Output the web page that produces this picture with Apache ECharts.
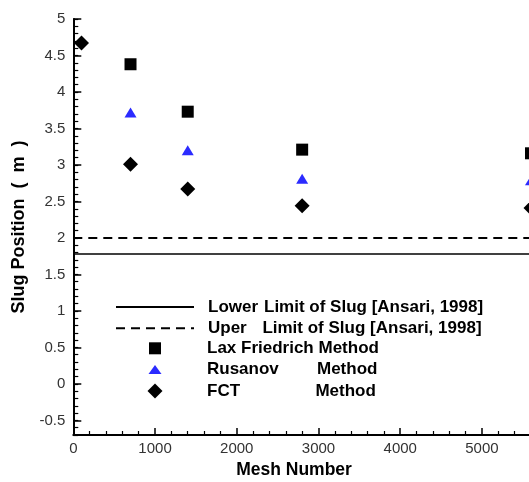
<!DOCTYPE html>
<html>
<head>
<meta charset="utf-8">
<script src="https://cdn.jsdelivr.net/npm/echarts@6/dist/echarts.min.js"></script>
<style>html,body{margin:0;padding:0;background:#fff;}#c{width:529px;height:482px;}</style>
</head>
<body>
<div id="c"></div>
<script>
// ---- data ----
const meshNumbers = [100, 700, 1400, 2800, 5600];
const laxFriedrich = [null, 4.38, 3.73, 3.21, 3.16];
const rusanov = [null, 3.72, 3.20, 2.81, 2.79];
const fct = [4.67, 3.01, 2.67, 2.44, 2.41];
const lowerLimit = 1.78;
const upperLimit = 2.0;
const limitX = [0, 6000];
const yTickLabels = [-0.5, 0, 0.5, 1, 1.5, 2, 2.5, 3, 3.5, 4, 4.5, 5];
const xTickLabels = [0, 1000, 2000, 3000, 4000, 5000];
const seriesNames = [
  'Lower Limit of Slug [Ansari, 1998]',
  'Uper   Limit of Slug [Ansari, 1998]',
  'Lax Friedrich Method',
  'Rusanov       Method',
  'FCT             Method'
];

const yMin = -0.7, yMax = 5;
const minorY = [];
for (let i = 0; i <= 57; i++) minorY.push(Math.round((yMin + i * 0.1) * 10) / 10);

function pts(xs, ys) {
  const out = [];
  xs.forEach((x, i) => { if (ys[i] !== null) out.push([x, ys[i]]); });
  return out;
}

const chart = echarts.init(document.getElementById('c'), null, {renderer: 'canvas'});
const FONT = 'Arial, "Liberation Sans", sans-serif';

const legendFormat = {};
legendFormat[seriesNames[0]] = '{p| }{a|Lower}{c|Limit of Slug [Ansari, 1998]}';
legendFormat[seriesNames[1]] = '{p| }{u|Uper}{c|Limit of Slug [Ansari, 1998]}';
legendFormat[seriesNames[2]] = '{q| }{c|Lax Friedrich Method}';
legendFormat[seriesNames[3]] = '{q| }{m|Rusanov}{c|Method}';
legendFormat[seriesNames[4]] = '{q| }{f|FCT}{c|Method}';

const rt = {fontFamily: FONT, fontWeight: 'bold', fontSize: 17, color: '#000', lineHeight: 14};
const rich = {
  p: Object.assign({}, rt, {width: 9}),
  q: Object.assign({}, rt, {width: 39.5}),
  a: Object.assign({}, rt, {width: 56}),
  u: Object.assign({}, rt, {width: 54.4}),
  m: Object.assign({}, rt, {width: 110}),
  f: Object.assign({}, rt, {width: 108.4}),
  c: rt
};
const legendText = {fontFamily: FONT, fontWeight: 'bold', fontSize: 17, color: '#000', lineHeight: 14, rich: rich};

chart.setOption({
  animation: false,
  backgroundColor: '#fff',
  grid: {left: 73.3, top: 19, bottom: 47, right: -34.7, containLabel: false, outerBoundsMode: 'none'},
  legend: [{
    orient: 'vertical', padding: 0,
    left: 115, top: 298.5,
    itemWidth: 78, itemHeight: 14, itemGap: 4.3,
    data: [seriesNames[0], seriesNames[1]],
    formatter: n => legendFormat[n],
    itemStyle: {opacity: 0},
    textStyle: legendText
  }, {
    orient: 'vertical', padding: 0,
    left: 147.5, top: 339.8,
    itemWidth: 15, itemHeight: 15, itemGap: 4.3,
    data: [
      {name: seriesNames[2], icon: 'path://M0,0M15,15M1.5,1.5L13.5,1.5L13.5,13.5L1.5,13.5Z'},
      {name: seriesNames[3], icon: 'path://M0,0M15,15M1,12L14,12L7.5,3Z'},
      {name: seriesNames[4], icon: 'path://M7.5,0L15,7.5L7.5,15L0,7.5Z'}
    ],
    formatter: n => legendFormat[n],
    textStyle: legendText
  }],
  xAxis: {
    type: 'value', min: 0, max: 6000, interval: 1000,
    name: 'Mesh Number', nameLocation: 'middle', nameGap: 26,
    nameTextStyle: {fontFamily: FONT, fontWeight: 'bold', fontSize: 17.5, color: '#000', padding: [0, 49, 0, 0]},
    axisLine: {show: true, onZero: false, lineStyle: {color: '#000', width: 2}},
    axisTick: {show: true, inside: true, length: 7, lineStyle: {color: '#000', width: 1.5}},
    minorTick: {show: true, splitNumber: 5, length: 4, lineStyle: {color: '#000', width: 1.2}},
    axisLabel: {fontFamily: FONT, fontSize: 15, color: '#333', margin: 6, customValues: xTickLabels,
                formatter: v => String(v)},
    splitLine: {show: false}, minorSplitLine: {show: false}
  },
  yAxis: [{
    type: 'value', min: yMin, max: yMax, position: 'left',
    name: 'Slug Position  (  m  )', nameLocation: 'middle', nameGap: 45, nameRotate: 90,
    nameTextStyle: {fontFamily: FONT, fontWeight: 'bold', fontSize: 18, color: '#000'},
    axisLine: {show: true, onZero: false, lineStyle: {color: '#000', width: 2}},
    axisTick: {show: true, inside: true, length: 8, customValues: yTickLabels, lineStyle: {color: '#000', width: 1.5}},
    axisLabel: {fontFamily: FONT, fontSize: 15, color: '#333', margin: 8, customValues: yTickLabels,
                formatter: v => String(v)},
    splitLine: {show: false}
  }, {
    type: 'value', min: yMin, max: yMax, position: 'left', offset: 0,
    axisLine: {show: false},
    axisTick: {show: true, inside: true, length: 5, customValues: minorY, lineStyle: {color: '#000', width: 1.2}},
    axisLabel: {show: false},
    splitLine: {show: false}
  }],
  series: [
    {name: seriesNames[0], type: 'line', symbol: 'none', data: limitX.map(x => [x, lowerLimit]),
     lineStyle: {color: '#000', width: 1.6, type: 'solid'}, itemStyle: {color: '#000'}},
    {name: seriesNames[1], type: 'line', symbol: 'none', data: limitX.map(x => [x, upperLimit]),
     lineStyle: {color: '#000', width: 2, type: [9, 6]}, itemStyle: {color: '#000'}},
    {name: seriesNames[2], type: 'scatter', symbol: 'rect', symbolSize: 12,
     data: pts(meshNumbers, laxFriedrich), itemStyle: {color: '#000', opacity: 1}},
    {name: seriesNames[3], type: 'scatter', symbol: 'triangle', symbolSize: [12, 10],
     data: pts(meshNumbers, rusanov), itemStyle: {color: '#2b2bff', opacity: 1}},
    {name: seriesNames[4], type: 'scatter', symbol: 'diamond', symbolSize: 15,
     data: pts(meshNumbers, fct), itemStyle: {color: '#000', opacity: 1}}
  ]
});
</script>
</body>
</html>
